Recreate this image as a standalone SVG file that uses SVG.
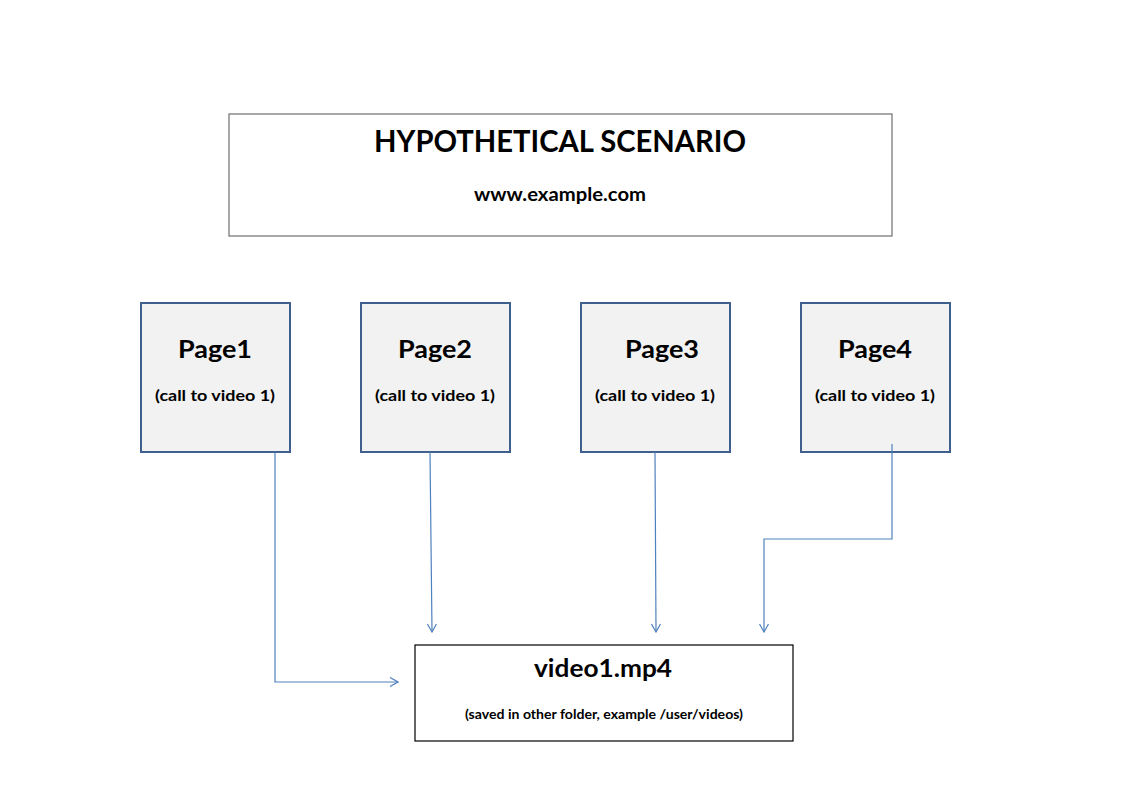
<svg xmlns="http://www.w3.org/2000/svg" width="1123" height="794" viewBox="0 0 1123 794">
<style>
.title{font-family:Lato,"Open Sans","Liberation Sans",sans-serif;font-weight:bold;fill:#000;text-anchor:middle}
.page{fill:#f2f2f2;stroke:#3f5f8f;stroke-width:2}
.conn{fill:none;stroke:#4f81bd;stroke-width:1.2}
</style>
<defs>
<marker id="arr" viewBox="0 0 10 10" refX="9" refY="5" markerWidth="10" markerHeight="10" markerUnits="userSpaceOnUse" orient="auto">
<path d="M1,0.5 L9,5 L1,9.5" fill="none" stroke="#4f81bd" stroke-width="1.2"/>
</marker>
</defs>
<rect width="1123" height="794" fill="#fff"/>
<g id="header">
<rect x="229" y="114" width="663" height="122" fill="#fff" stroke="#6e6e6e" stroke-width="1.2"/>
<text class="title" x="560" y="152" font-size="30" textLength="372" lengthAdjust="spacingAndGlyphs">HYPOTHETICAL SCENARIO</text>
<text class="title" x="560" y="201" font-size="18" textLength="172" lengthAdjust="spacingAndGlyphs">www.example.com</text>
</g>
<g id="page1">
<rect class="page" x="141" y="303" width="149" height="149"/>
<text class="title" x="215" y="358" font-size="24" textLength="74" lengthAdjust="spacingAndGlyphs">Page1</text>
<text class="title" x="215" y="401" font-size="16" textLength="120" lengthAdjust="spacingAndGlyphs">(call to video 1)</text>
</g>
<g id="page2">
<rect class="page" x="361" y="303" width="149" height="149"/>
<text class="title" x="435" y="358" font-size="24" textLength="74" lengthAdjust="spacingAndGlyphs">Page2</text>
<text class="title" x="435" y="401" font-size="16" textLength="120" lengthAdjust="spacingAndGlyphs">(call to video 1)</text>
</g>
<g id="page3">
<rect class="page" x="581" y="303" width="149" height="149"/>
<text class="title" x="662" y="358" font-size="24" textLength="74" lengthAdjust="spacingAndGlyphs">Page3</text>
<text class="title" x="655" y="401" font-size="16" textLength="120" lengthAdjust="spacingAndGlyphs">(call to video 1)</text>
</g>
<g id="page4">
<rect class="page" x="801" y="303" width="149" height="149"/>
<text class="title" x="875" y="358" font-size="24" textLength="74" lengthAdjust="spacingAndGlyphs">Page4</text>
<text class="title" x="875" y="401" font-size="16" textLength="120" lengthAdjust="spacingAndGlyphs">(call to video 1)</text>
</g>
<g id="video">
<rect x="415" y="645" width="378" height="96" fill="#fff" stroke="#000" stroke-width="1.2"/>
<text class="title" x="603" y="677" font-size="25" textLength="138" lengthAdjust="spacingAndGlyphs">video1.mp4</text>
<text class="title" x="604" y="719" font-size="12.5" textLength="278" lengthAdjust="spacingAndGlyphs">(saved in other folder, example /user/videos)</text>
</g>
<g id="connectors">
<path class="conn" d="M275,452 L275,682 L398,682" marker-end="url(#arr)"/>
<path class="conn" d="M430,452 L432,632" marker-end="url(#arr)"/>
<path class="conn" d="M655,452 L656,632" marker-end="url(#arr)"/>
<path class="conn" d="M892,444 L892,539 L764,539 L764,632" marker-end="url(#arr)"/>
</g>
</svg>
